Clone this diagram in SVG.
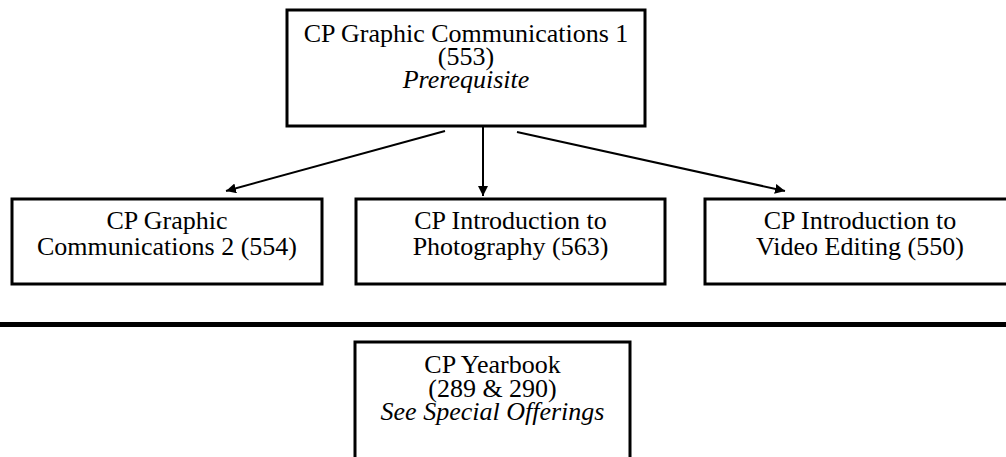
<svg xmlns="http://www.w3.org/2000/svg" width="1006" height="457" viewBox="0 0 1006 457">
<style>
.box{fill:#fff;stroke:#000;stroke-width:3}
.t{font-family:"Liberation Serif","Times New Roman",serif;font-size:26px;fill:#000;text-anchor:middle}
.i{font-style:italic}
.c{stroke:#000;stroke-width:2;fill:none}
</style>
<defs>
<marker id="ah" viewBox="0 0 10 10" refX="10" refY="5" markerWidth="5" markerHeight="5" orient="auto" markerUnits="strokeWidth">
<path d="M0,0 L10,5 L0,10 z" fill="#000"/>
</marker>
</defs>
<rect width="1006" height="457" fill="#fff"/>
<g id="connectors">
<line class="c" x1="445" y1="131" x2="226" y2="191" marker-end="url(#ah)"/>
<line class="c" x1="483" y1="126" x2="483" y2="196" marker-end="url(#ah)"/>
<line class="c" x1="517" y1="132" x2="785" y2="191" marker-end="url(#ah)"/>
</g>
<g id="n553">
<rect class="box" x="287" y="10" width="358" height="116"/>
<text class="t" x="466" y="42">CP Graphic Communications 1</text>
<text class="t" x="466" y="65">(553)</text>
<text class="t i" x="466" y="88">Prerequisite</text>
</g>
<g id="n554">
<rect class="box" x="12" y="199" width="310" height="85"/>
<text class="t" x="167" y="229">CP Graphic</text>
<text class="t" x="167" y="255">Communications 2 (554)</text>
</g>
<g id="n563">
<rect class="box" x="356" y="199" width="309" height="85"/>
<text class="t" x="510.5" y="229">CP Introduction to</text>
<text class="t" x="510.5" y="255">Photography (563)</text>
</g>
<g id="n550">
<rect class="box" x="705" y="199" width="310" height="85"/>
<text class="t" x="860" y="229">CP Introduction to</text>
<text class="t" x="860" y="255">Video Editing (550)</text>
</g>
<line id="divider" x1="0" y1="324.5" x2="1006" y2="324.5" stroke="#000" stroke-width="5"/>
<g id="yearbook">
<rect class="box" x="355" y="342" width="275" height="130"/>
<text class="t" x="492.5" y="373">CP Yearbook</text>
<text class="t" x="492.5" y="397">(289 &amp; 290)</text>
<text class="t i" x="492.5" y="420">See Special Offerings</text>
</g>
</svg>
